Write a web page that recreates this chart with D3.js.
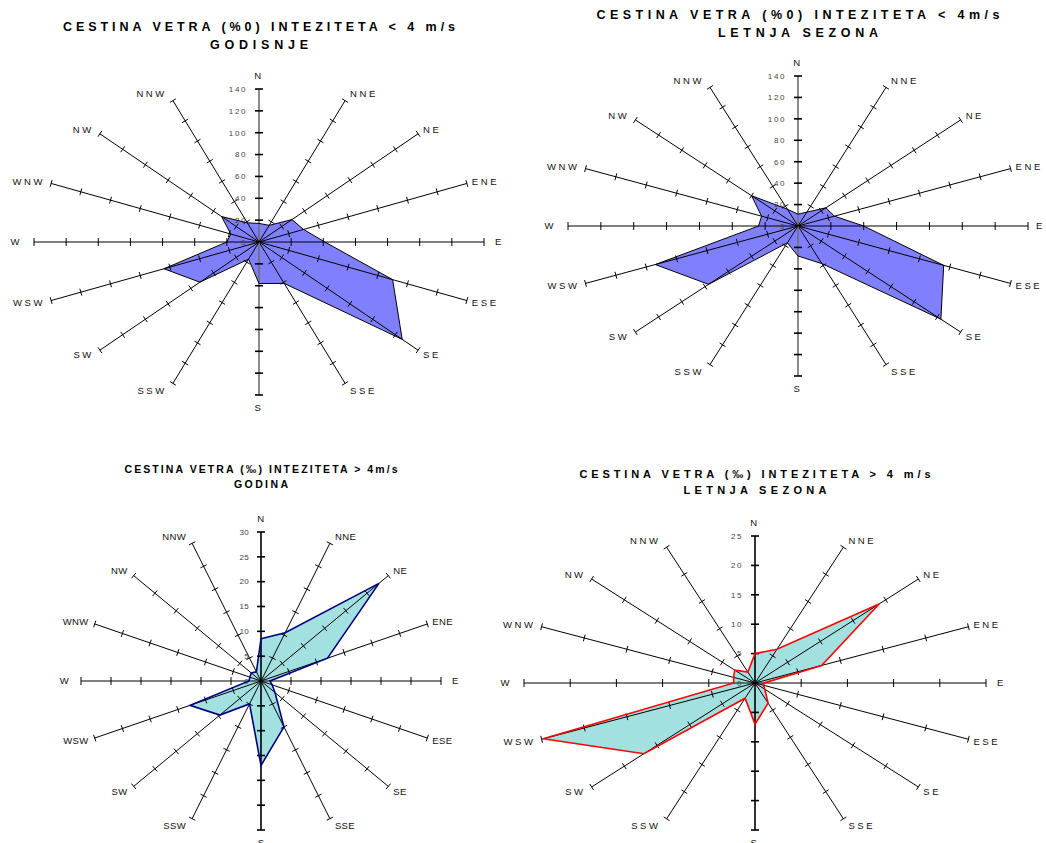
<!DOCTYPE html>
<html><head><meta charset="utf-8">
<script src="https://cdn.jsdelivr.net/npm/d3@7"></script>
<style>body{margin:0;background:#fff;} svg{display:block;font-family:Arial,"Liberation Sans",sans-serif;}</style>
</head><body><svg id="c" width="1046" height="843"></svg>
<script>
// ---- data ----
const directions = ["N","NNE","NE","ENE","E","ESE","SE","SSE","S","SSW","SW","WSW","W","WNW","NW","NNW"];
// frequency (per mille), wind < 4 m/s, whole year
const lowYear   = [17, 16.5, 29, 30, 41, 90, 126, 41, 38, 17, 52, 64, 20, 19, 33, 19];
// wind < 4 m/s, summer season
const lowSummer = [11, 14, 24, 24, 40, 96, 123, 38, 28, 17, 77, 94, 24, 24, 40, 17];
// wind > 4 m/s, whole year
const highYear  = [8.5, 10.5, 27.8, 12, 1.5, 2, 3.3, 10, 17, 5, 9.7, 12.8, 2, 2, 2.3, 2];
// wind > 4 m/s, summer season
const highSummer= [5, 6.2, 19, 7.8, 1, 1, 1.5, 3.7, 7, 2.8, 17, 24.8, 2.3, 2.5, 3.1, 2];
const ticksLow = [0,20,40,60,80,100,120,140];
const ticksHighYear = [0,5,10,15,20,25,30];
const ticksHighSummer = [0,5,10,15,20,25];

const titles = [
  ["CESTINA VETRA (%0) INTEZITETA < 4 m/s", "GODISNJE"],
  ["CESTINA VETRA (%0) INTEZITETA <  4m/s", "LETNJA SEZONA"],
  ["CESTINA VETRA (\u2030) INTEZITETA >  4m/s", "GODINA"],
  ["CESTINA VETRA (\u2030) INTEZITETA >  4 m/s", "LETNJA SEZONA"]
];

// ---- layout ----
const charts = [
  {values: lowYear, ticks: ticksLow, cx:259, cy:242, rx:225, ry:153, fill:"#8080FF", stroke:"#000", sw:1,
   t:{y1:31,w1:392,y2:49,w2:98,fs:12.5}, spaced:true, vAxis:"#6f6f6f", eOff:6},
  {values: lowSummer, ticks: ticksLow, cx:798, cy:226, rx:230, ry:150, fill:"#8080FF", stroke:"#000", sw:1,
   t:{y1:19,w1:403,y2:37,w2:160,fs:12.5}, spaced:true, vAxis:"#6f6f6f", eOff:3},
  {values: highYear, ticks: ticksHighYear, cx:261, cy:681, rx:180, ry:149, fill:"#A3E0E0", stroke:"#000080", sw:1.6,
   t:{y1:473,w1:273,y2:488,w2:54,fs:10.5}, spaced:false, vAxis:"#000", eOff:6},
  {values: highSummer, ticks: ticksHighSummer, cx:755, cy:683, rx:231, ry:147, fill:"#A3E0E0", stroke:"#FF0000", sw:1.6,
   t:{y1:478,w1:351,y2:494,w2:143,fs:11}, spaced:true, vAxis:"#000", eOff:6}
];

const svg = d3.select("#c");

charts.forEach((c, k) => {
  const g = svg.append("g");
  const max = d3.max(c.ticks);
  const sx = d3.scaleLinear().domain([0, max]).range([0, c.rx]);
  const sy = d3.scaleLinear().domain([0, max]).range([0, c.ry]);
  const ang = d3.scaleLinear().domain([0, directions.length]).range([0, 2*Math.PI]);
  const pt = (i, v) => [c.cx + sx(v)*Math.sin(ang(i)), c.cy - sy(v)*Math.cos(ang(i))];

  // titles
  const tt = titles[k];
  g.append("text").attr("x", c.cx).attr("y", c.t.y1).attr("text-anchor","middle")
    .attr("font-weight","bold").attr("font-size", c.t.fs)
    .attr("textLength", c.t.w1).attr("lengthAdjust","spacing").text(tt[0]);
  g.append("text").attr("x", c.cx).attr("y", c.t.y2).attr("text-anchor","middle")
    .attr("font-weight","bold").attr("font-size", c.t.fs)
    .attr("textLength", c.t.w2).attr("lengthAdjust","spacing").text(tt[1]);

  // fill polygon
  const line = d3.line().curve(d3.curveLinearClosed);
  const poly = c.values.map((v,i) => pt(i, v));
  g.append("path").attr("d", line(poly)).attr("fill", c.fill).attr("stroke","none");

  // axes
  directions.forEach((d, i) => {
    const end = pt(i, max);
    const vertical = (i === 0 || i === 8);
    g.append("line").attr("x1", c.cx).attr("y1", c.cy).attr("x2", end[0]).attr("y2", end[1])
      .attr("stroke", vertical ? c.vAxis : "#000").attr("stroke-width", vertical ? 1.6 : 1);
    // ticks
    const dxs = end[0]-c.cx, dys = end[1]-c.cy, L = Math.hypot(dxs, dys);
    const px = -dys/L, py = dxs/L;
    c.ticks.slice(1).forEach(tv => {
      const p = pt(i, tv);
      const h = vertical ? 4 : (i===4||i===12 ? 4 : 3.5);
      g.append("line").attr("x1", p[0]-px*h).attr("y1", p[1]-py*h)
        .attr("x2", p[0]+px*h).attr("y2", p[1]+py*h)
        .attr("stroke", "#000").attr("stroke-width", vertical ? 1.6 : 1);
    });
    // direction label
    const ux = dxs/L, uy = dys/L;
    let lx = end[0] + ux*8, ly = end[1] + uy*8;
    let anchor = "middle";
    if (i === 0) { lx = end[0]; ly = end[1] - 13; }
    else if (i === 8) { lx = end[0]; ly = end[1] + 13; }
    else if (i < 8) { anchor = "start"; lx = end[0] + 5 + (i===4?c.eOff:0); }
    else { anchor = "end"; lx = end[0] - 6 - (i===12?6:0); }
    g.append("text").attr("x", lx).attr("y", ly).attr("dy","0.35em")
      .attr("text-anchor", anchor).attr("font-size", 9.5).attr("fill","#111")
      .attr("letter-spacing", c.spaced ? "2.6px" : "0.4px")
      .text(d);
  });

  // value tick labels
  c.ticks.forEach(tv => {
    const p = pt(0, tv);
    g.append("text").attr("x", c.cx - 12).attr("y", p[1]).attr("dy","0.35em")
      .attr("text-anchor","end").attr("font-size", 8).attr("fill","#444")
      .attr("letter-spacing", c.spaced ? "1.6px" : "0.3px")
      .text(tv);
  });

  // outline
  g.append("path").attr("d", line(poly)).attr("fill","none")
    .attr("stroke", c.stroke).attr("stroke-width", c.sw).attr("stroke-linejoin","miter");
});
</script>
</body></html>
